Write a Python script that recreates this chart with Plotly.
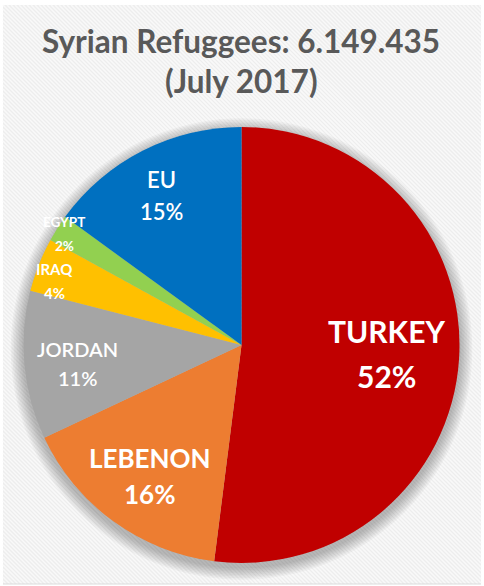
import math
import plotly.graph_objects as go

# Syrian refugees by host country, July 2017 (share of total, %)
countries = ["TURKEY", "LEBENON", "JORDAN", "IRAQ", "EGYPT", "EU"]
shares = [52, 16, 11, 4, 2, 15]
pct_labels = ["52%", "16%", "11%", "4%", "2%", "15%"]
title_lines = ["Syrian Refuggees: 6.149.435", "(July 2017)"]

# Styling per slice
colors = ["#C00000", "#ED7D31", "#A5A5A5", "#FFC000", "#92D050", "#0070C0"]
label_sizes = [30, 26, 20, 15, 13.5, 22]
label_weight = [700, 700, 600, 700, 700, 600]
label_radius = [0.665, 0.735, 0.755, 0.905, 0.96, 0.775]
label_turn = [-0.2, -1.1, -1.1, -2.7, -0.4, -1.1]  # degrees off the slice mid-angle
label_gap = [45, 36, 29, 24, 24, 32]

W, H = 484, 586
CX, CY, R = 241.5, 345.0, 218.0  # pie centre / radius in pixels


def px(x):
    return x / W


def py(y):
    return 1 - y / H


fig = go.Figure(go.Pie(
    labels=countries,
    values=shares,
    sort=False,
    direction="clockwise",
    rotation=0,
    marker=dict(colors=colors, line=dict(width=0)),
    textinfo="none",
    hoverinfo="label+percent",
    showlegend=False,
    domain=dict(x=[px(CX - R), px(CX + R)], y=[py(CY + R), py(CY - R)]),
))

shapes = []
# panel background with fine diagonal stripes
X0, X1, Y0, Y1 = 3, 481, 5, 584
shapes.append(dict(type="rect", xref="paper", yref="paper", x0=px(X0), x1=px(X1),
                   y0=py(Y1), y1=py(Y0), fillcolor="#ededed", line=dict(width=0), layer="below"))
for c in range(-(X1 - X0) - 10, (Y1 - Y0) + 10, 4):
    # line: y - Y0 = (x - X0) + c
    pts = []
    for x in (X0, X1):
        y = Y0 + (x - X0) + c
        if Y0 <= y <= Y1:
            pts.append((x, y))
    for y in (Y0, Y1):
        x = X0 + (y - Y0) - c
        if X0 <= x <= X1:
            pts.append((x, y))
    pts = sorted(set(pts))
    if len(pts) >= 2:
        (ax, ay), (bx, by) = pts[0], pts[-1]
        shapes.append(dict(type="line", xref="paper", yref="paper",
                           x0=px(ax), y0=py(ay), x1=px(bx), y1=py(by),
                           line=dict(color="#f9f9f9", width=1.6), layer="below"))
shapes.append(dict(type="line", xref="paper", yref="paper", x0=px(X0), x1=px(X1),
                   y0=py(Y1), y1=py(Y1), line=dict(color="#dcdcdc", width=1), layer="below"))

# soft drop shadow under the pie
for k in range(8, 0, -1):
    r = R + k * 1.6
    shapes.append(dict(type="circle", xref="paper", yref="paper",
                       x0=px(CX - r), x1=px(CX + r), y0=py(CY + 4 + r), y1=py(CY + 4 - r),
                       fillcolor="rgba(0,0,0,0.035)", line=dict(width=0), layer="below"))

annotations = []
for i, line in enumerate(title_lines):
    annotations.append(dict(text=f"<b>{line}</b>", x=px(241), y=py(41 + 40 * i),
                            xref="paper", yref="paper", showarrow=False,
                            xanchor="center", yanchor="middle",
                            font=dict(family="Lato", size=31.5, color="#595959")))

# slice labels placed around each slice's mid-angle
total = sum(shares)
cum = 0
for i, (name, v) in enumerate(zip(countries, shares)):
    mid = (cum + v / 2) / total * 2 * math.pi + math.radians(label_turn[i])
    cum += v
    lx = CX + label_radius[i] * R * math.sin(mid)
    ly = CY - label_radius[i] * R * math.cos(mid)
    for txt, dy in ((name, -label_gap[i] / 2), (pct_labels[i], label_gap[i] / 2)):
        annotations.append(dict(text=txt, x=px(lx), y=py(ly + dy), xref="paper", yref="paper",
                                showarrow=False, xanchor="center", yanchor="middle",
                                font=dict(family="Lato", size=label_sizes[i], color="white",
                                          weight=label_weight[i])))

fig.update_layout(
    width=W, height=H,
    margin=dict(l=0, r=0, t=0, b=0),
    paper_bgcolor="white",
    plot_bgcolor="white",
    shapes=shapes,
    annotations=annotations,
)

fig.write_html("out.html")
